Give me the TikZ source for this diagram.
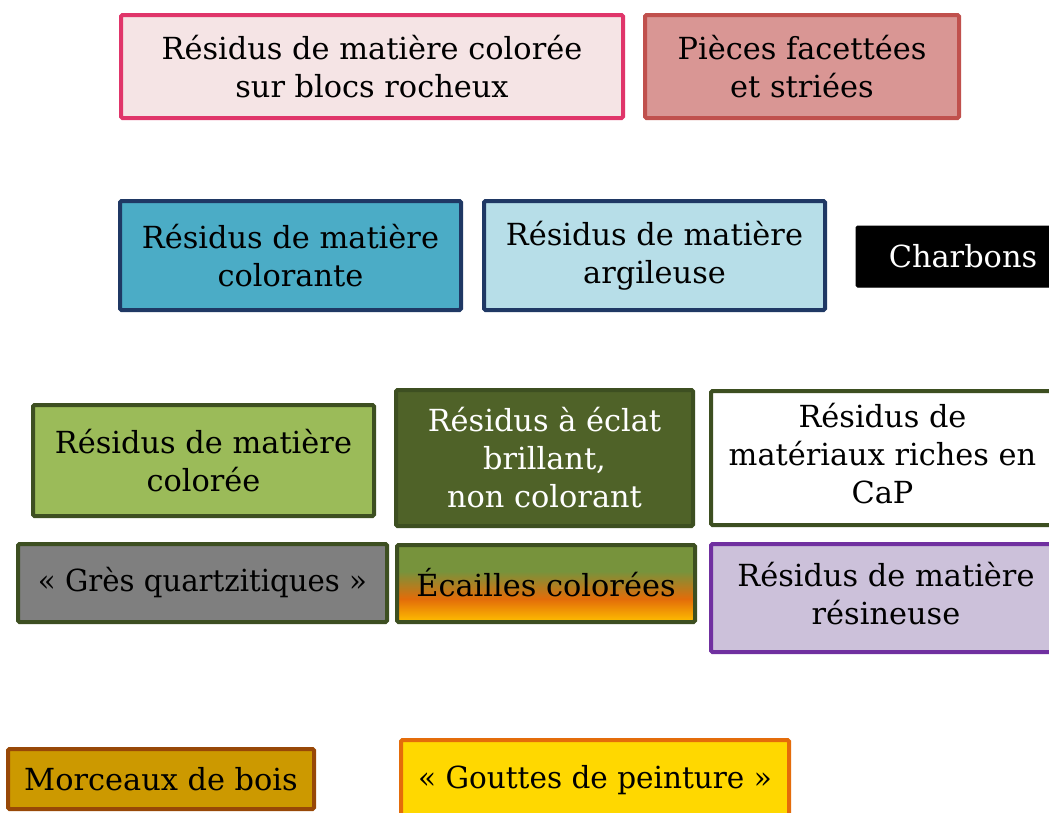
\documentclass[tikz,border=0pt]{standalone}
\usepackage{graphicx}
\usepackage{fontspec}
\setmainfont{DejaVu Serif}
\definecolor{pinkfill}{HTML}{F5E4E5}
\definecolor{pinkline}{HTML}{E0356A}
\definecolor{piecefill}{HTML}{D99694}
\definecolor{pieceline}{HTML}{C0504D}
\definecolor{bluefill}{HTML}{4BACC6}
\definecolor{lightblue}{HTML}{B7DEE8}
\definecolor{navy}{HTML}{1F3864}
\definecolor{olivelight}{HTML}{9BBB59}
\definecolor{olivedark}{HTML}{4F6228}
\definecolor{oliveline}{HTML}{3D4F21}
\definecolor{gresfill}{HTML}{7F7F7F}
\definecolor{lilacfill}{HTML}{CCC1DA}
\definecolor{purpleline}{HTML}{7030A0}
\definecolor{woodfill}{HTML}{CC9900}
\definecolor{woodline}{HTML}{984807}
\definecolor{goldfill}{HTML}{FFD800}
\definecolor{orangeline}{HTML}{E46C0A}
\definecolor{ecgreen}{HTML}{77933C}
\definecolor{ecorange}{HTML}{E36C09}
\definecolor{ecyellow}{HTML}{FFC000}
\pgfdeclareverticalshading{ecailles}{100bp}{color(0bp)=(ecyellow); color(25bp)=(ecyellow); color(40bp)=(ecorange); color(58bp)=(ecgreen); color(100bp)=(ecgreen)}
\tikzset{
  box/.style={draw, line width=4pt, rounded corners=1.5pt, align=center, inner sep=0pt,
    font=\fontsize{30.4}{38}\selectfont},
}
\begin{document}
\begin{tikzpicture}[x=1pt,y=-1pt]
\clip (0,0) rectangle (1049,812);
\fill[white] (0,0) rectangle (1049,812);
\node[box, draw=pinkline, fill=pinkfill, minimum width=502, minimum height=103] (n1) at (372,66.5) {Résidus de matière colorée\\sur blocs rocheux};
\node[box, draw=pieceline, fill=piecefill, minimum width=314, minimum height=103] (n2) at (802,66.5) {Pièces facettées\\et striées};
\node[box, draw=navy, fill=bluefill, minimum width=341, minimum height=109] (n3) at (290.5,255.5) {Résidus de matière\\colorante};
\node[box, draw=navy, fill=lightblue, minimum width=341, minimum height=109] (n4) at (654.5,255.5) {Résidus de matière\\argileuse};
\node[box, draw=black, fill=black, text=white, line width=1pt, minimum width=210, minimum height=61] (n5) at (961,256.5) {\hspace*{4pt}Charbons};
\node[box, draw=oliveline, fill=olivelight, minimum width=341, minimum height=111] (n6) at (203.5,460.5) {Résidus de matière\\colorée};
\node[box, draw=oliveline, fill=olivedark, text=white, minimum width=297, minimum height=136] (n7) at (544.5,458) {Résidus à éclat\\brillant,\\non colorant};
\node[box, draw=oliveline, fill=white, minimum width=360, minimum height=134] (n8) at (891,458) {\hspace*{-17pt}\begin{tabular}{@{}c@{}}Résidus de\\matériaux riches en\\CaP\end{tabular}};
\node[box, draw=oliveline, fill=gresfill, minimum width=369, minimum height=78] (n9) at (202.5,583) {\scalebox{0.96}[1]{« Grès quartzitiques »}};
\node[box, draw=oliveline, shading=ecailles, minimum width=298, minimum height=77] (n10) at (546,583.5) {\raisebox{3pt}{Écailles colorées}};
\node[box, draw=purpleline, fill=lilacfill, minimum width=360, minimum height=108] (n11) at (891,598) {\hspace*{-10pt}\begin{tabular}{@{}c@{}}Résidus de matière\\résineuse\end{tabular}};
\node[box, draw=woodline, fill=woodfill, minimum width=306, minimum height=60] (n12) at (161,779) {Morceaux de bois};
\node[box, draw=orangeline, fill=goldfill, minimum width=388, minimum height=80] (n13) at (595,780) {\raisebox{2pt}{\scalebox{0.97}[1]{« Gouttes de peinture »}}};
\end{tikzpicture}
\end{document}
